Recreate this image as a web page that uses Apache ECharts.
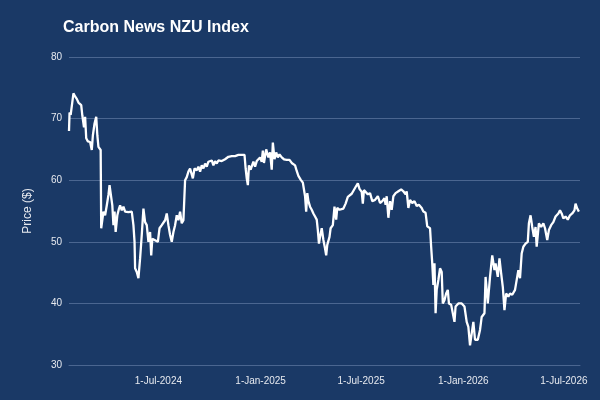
<!DOCTYPE html>
<html>
<head>
<meta charset="utf-8">
<script src="https://cdn.jsdelivr.net/npm/echarts@6/dist/echarts.min.js"></script>
<style>
  html, body { margin: 0; padding: 0; background: #1a3966; }
  #chart { width: 600px; height: 400px; }
</style>
</head>
<body>
<div id="chart"></div>
<script>
// NZU index
var dates = [
  '2024-01-22','2024-01-23','2024-01-25','2024-01-27','2024-01-30','2024-02-02','2024-02-05','2024-02-08',
  '2024-02-13','2024-02-15','2024-02-18','2024-02-20','2024-02-22','2024-02-25','2024-02-29','2024-03-03',
  '2024-03-05','2024-03-08','2024-03-11','2024-03-13','2024-03-15','2024-03-19','2024-03-20','2024-03-22',
  '2024-03-24','2024-03-27','2024-03-30','2024-04-02','2024-04-04','2024-04-07','2024-04-09','2024-04-11',
  '2024-04-13','2024-04-15','2024-04-18','2024-04-21','2024-04-23','2024-04-26','2024-04-29','2024-05-02',
  '2024-05-08','2024-05-14','2024-05-17','2024-05-19','2024-05-20','2024-05-23','2024-05-26','2024-05-29',
  '2024-06-01','2024-06-04','2024-06-07','2024-06-10','2024-06-13','2024-06-16','2024-06-18','2024-06-20',
  '2024-06-24','2024-06-27','2024-06-30','2024-07-03','2024-07-07','2024-07-13','2024-07-16','2024-07-19',
  '2024-07-22','2024-07-25','2024-07-28','2024-07-31','2024-08-03','2024-08-06','2024-08-09','2024-08-12',
  '2024-08-15','2024-08-18','2024-08-21','2024-08-24','2024-08-27','2024-08-30','2024-09-01','2024-09-04',
  '2024-09-08','2024-09-11','2024-09-14','2024-09-17','2024-09-20','2024-09-23','2024-09-26','2024-09-29',
  '2024-10-02','2024-10-05','2024-10-08','2024-10-11','2024-10-14','2024-10-17','2024-10-23','2024-10-29',
  '2024-11-04','2024-11-10','2024-11-16','2024-11-22','2024-11-28','2024-12-03','2024-12-05','2024-12-07',
  '2024-12-09','2024-12-11','2024-12-14','2024-12-19','2024-12-22','2024-12-25','2024-12-28','2024-12-31',
  '2025-01-03','2025-01-05','2025-01-07','2025-01-11','2025-01-15','2025-01-18','2025-01-21','2025-01-23',
  '2025-01-26','2025-01-29','2025-02-01','2025-02-04','2025-02-08','2025-02-12','2025-02-17','2025-02-22',
  '2025-02-26','2025-03-01','2025-03-04','2025-03-07','2025-03-10','2025-03-14','2025-03-18','2025-03-20',
  '2025-03-22','2025-03-24','2025-03-26','2025-03-28','2025-03-31','2025-04-03','2025-04-06','2025-04-09',
  '2025-04-12','2025-04-14','2025-04-16','2025-04-18','2025-04-21','2025-04-24','2025-04-27','2025-04-29',
  '2025-05-01','2025-05-05','2025-05-07','2025-05-11','2025-05-14','2025-05-17','2025-05-19','2025-05-23',
  '2025-05-30','2025-06-03','2025-06-07','2025-06-10','2025-06-14','2025-06-17','2025-06-21','2025-06-25',
  '2025-06-28','2025-07-02','2025-07-04','2025-07-06','2025-07-08','2025-07-13','2025-07-17','2025-07-21',
  '2025-07-26','2025-07-31','2025-08-04','2025-08-08','2025-08-12','2025-08-14','2025-08-16','2025-08-19',
  '2025-08-22','2025-08-25','2025-08-28','2025-09-01','2025-09-06','2025-09-11','2025-09-15','2025-09-19',
  '2025-09-21','2025-09-24','2025-09-27','2025-10-01','2025-10-05','2025-10-09','2025-10-13','2025-10-18',
  '2025-10-21','2025-10-25','2025-10-28','2025-11-02','2025-11-04','2025-11-06','2025-11-08','2025-11-10',
  '2025-11-12','2025-11-14','2025-11-17','2025-11-20','2025-11-23','2025-11-25','2025-11-28','2025-12-01',
  '2025-12-04','2025-12-06','2025-12-10','2025-12-13','2025-12-16','2025-12-18','2025-12-23','2025-12-29',
  '2026-01-03','2026-01-07','2026-01-10','2026-01-13','2026-01-16','2026-01-19','2026-01-22','2026-01-27',
  '2026-01-31','2026-02-03','2026-02-08','2026-02-10','2026-02-14','2026-02-18','2026-02-22','2026-02-26',
  '2026-02-28','2026-03-04','2026-03-07','2026-03-10','2026-03-13','2026-03-16','2026-03-19','2026-03-23',
  '2026-03-26','2026-03-30','2026-04-04','2026-04-07','2026-04-10','2026-04-13','2026-04-16','2026-04-19',
  '2026-04-23','2026-04-27','2026-04-29','2026-05-02','2026-05-05','2026-05-08','2026-05-11','2026-05-13',
  '2026-05-17','2026-05-21','2026-05-25','2026-05-28','2026-06-01','2026-06-04','2026-06-08','2026-06-12',
  '2026-06-16','2026-06-21','2026-06-24','2026-06-27','2026-06-30','2026-07-04','2026-07-08','2026-07-12',
  '2026-07-16','2026-07-20','2026-07-22','2026-07-25','2026-07-28'
];
var prices = [
  68.0, 71.0, 70.6, 70.9, 74.1, 73.6, 73.2, 72.6,
  72.2, 70.5, 68.6, 70.3, 66.8, 66.3, 66.2, 64.9,
  67.3, 69.2, 70.3, 67.3, 65.4, 64.9, 52.2, 52.2,
  54.9, 54.3, 55.9, 57.6, 59.2, 58.9, 55.9, 52.7,
  54.9, 51.6, 54.3, 55.4, 55.9, 55.1, 55.7, 54.9,
  54.8, 54.9, 52.7, 50.0, 45.7, 45.1, 44.1, 47.3,
  51.1, 55.4, 53.2, 52.7, 50.0, 51.6, 47.8, 50.5,
  50.3, 50.5, 50.0, 52.2, 52.7, 53.5, 54.6, 52.7,
  51.1, 50.0, 51.6, 52.7, 54.3, 53.5, 54.9, 53.0,
  53.5, 60.0, 60.5, 61.4, 61.9, 62.2, 60.3, 61.9,
  61.6, 62.2, 61.4, 62.4, 61.9, 62.7, 62.2, 63.0,
  62.7, 63.2, 62.4, 63.1, 62.7, 63.2, 63.1, 63.4,
  63.8, 63.9, 63.9, 64.1, 64.1, 64.1, 61.9, 60.3,
  59.2, 62.4, 61.7, 63.0, 62.2, 63.1, 63.2, 63.7,
  63.0, 64.8, 62.8, 65.0, 63.7, 64.5, 61.7, 66.1,
  63.4, 64.5, 63.7, 64.2, 63.7, 63.4, 63.3, 63.3,
  62.8, 62.6, 62.4, 61.5, 60.7, 60.1, 59.6, 58.5,
  57.4, 54.9, 57.9, 56.6, 55.7, 55.2, 54.6, 54.1,
  53.6, 51.9, 49.7, 50.8, 52.2, 50.3, 48.9, 47.8,
  49.5, 50.8, 52.2, 52.7, 55.7, 53.6, 55.5, 55.2,
  55.4, 56.2, 57.3, 57.0, 57.8, 58.1, 58.9, 59.5,
  58.6, 58.1, 56.2, 58.4, 58.2, 57.7, 57.9, 56.6,
  56.8, 57.4, 56.3, 56.6, 57.1, 56.0, 57.4, 53.9,
  56.6, 55.2, 57.4, 57.9, 58.2, 58.5, 58.2, 57.7,
  58.2, 55.5, 56.8, 56.3, 56.6, 55.8, 56.0, 55.5,
  54.9, 54.7, 52.5, 52.2, 49.2, 46.5, 43.0, 46.5,
  38.4, 42.2, 43.8, 45.7, 45.1, 40.0, 40.5, 41.6,
  42.2, 40.0, 39.8, 40.0, 37.0, 39.5, 40.0, 40.0,
  39.5, 37.0, 36.2, 33.2, 33.0, 37.0, 34.1, 34.1,
  35.7, 37.8, 38.4, 44.3, 40.0, 44.3, 47.8, 45.4,
  46.5, 44.3, 47.3, 44.9, 42.7, 38.9, 41.6, 41.1,
  41.6, 41.4, 42.2, 42.2, 45.4, 44.1, 48.1, 49.2,
  49.7, 50.0, 53.0, 54.3, 52.4, 50.8, 52.4, 49.2,
  53.0, 52.4, 53.0, 52.2, 50.3, 51.9, 52.7, 53.2,
  54.1, 54.6, 55.1, 54.6, 53.8, 54.1, 53.6, 54.3,
  54.6, 55.1, 56.2, 55.4, 54.9
];
var tickDates = ['2024-07-01', '2025-01-01', '2025-07-01', '2026-01-01', '2026-07-01'];
var monthNames = ['Jan','Feb','Mar','Apr','May','Jun','Jul','Aug','Sep','Oct','Nov','Dec'];
var startDate = '2024-01-22';
var endDate = '2026-07-30';

function toTime(s) {
  return echarts.time.parse(s).getTime();
}

var chart = echarts.init(document.getElementById('chart'));

var seriesData = [];
for (var i = 0; i < dates.length; i++) {
  seriesData.push([toTime(dates[i]), prices[i]]);
}
var tickValues = tickDates.map(toTime);

var option = {
  backgroundColor: '#1a3966',
  textStyle: { fontFamily: 'Liberation Sans, Arial, sans-serif' },
  title: {
    text: 'Carbon News NZU Index',
    left: 58,
    top: 15,
    textStyle: { color: '#fff', fontSize: 16, fontWeight: 'bold' }
  },
  grid: { left: 69, right: 20, top: 57, bottom: 35 },
  xAxis: {
    type: 'value',
    min: toTime(startDate),
    max: toTime(endDate),
    axisLine: { show: true, onZero: false, lineStyle: { color: '#4b6690', width: 1 } },
    axisTick: { show: false },
    splitLine: { show: false },
    axisLabel: {
      color: '#e6e9ef',
      fontSize: 10,
      margin: 11,
      customValues: tickValues,
      formatter: function (v) {
        var d = new Date(v);
        return d.getDate() + '-' + monthNames[d.getMonth()] + '-' + d.getFullYear();
      }
    }
  },
  yAxis: {
    type: 'value',
    min: 30,
    max: 80,
    interval: 10,
    name: 'Price ($)',
    nameLocation: 'middle',
    nameGap: 35,
    nameTextStyle: { color: '#e6e9ef', fontSize: 12 },
    axisLine: { show: false },
    axisTick: { show: false },
    axisLabel: { color: '#e6e9ef', fontSize: 10, margin: 7 },
    splitLine: { lineStyle: { color: '#4b6690', width: 1 } }
  },
  series: [
    {
      name: 'NZU',
      type: 'line',
      data: seriesData,
      showSymbol: false,
      symbol: 'none',
      lineStyle: { color: '#ffffff', width: 2.3 },
      animation: false
    }
  ]
};

chart.setOption(option);
</script>
</body>
</html>
